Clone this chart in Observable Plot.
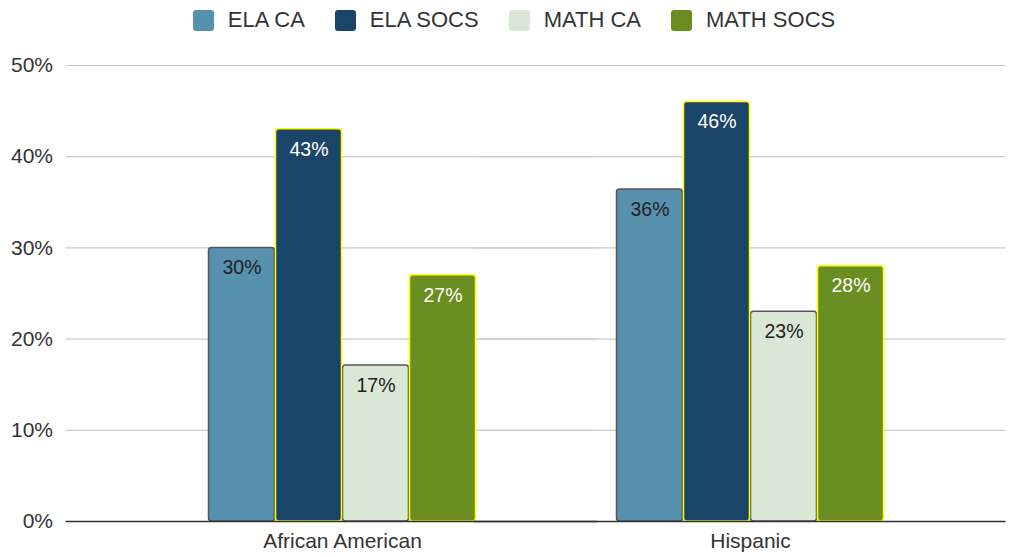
<!DOCTYPE html>
<html>
<head>
<meta charset="utf-8">
<script src="https://cdn.jsdelivr.net/npm/d3@7"></script>
<script src="https://cdn.jsdelivr.net/npm/@observablehq/plot@0.6"></script>
<style>
  body { margin: 0; background: #fff; font-family: "Liberation Sans", Arial, sans-serif; }
  #legend { height: 40px; display: flex; justify-content: center; align-items: center; padding-left: 12px; box-sizing: border-box; }
  .item { display: flex; align-items: center; margin: 0 15px; font-size: 22px; color: #333; }
  .sw { width: 21px; height: 21px; border-radius: 3px; margin-right: 14px; }
</style>
</head>
<body>
<div id="legend"></div>
<div id="chart"></div>
<script>
const groups = ["African American", "Hispanic"];
const series = ["ELA CA", "ELA SOCS", "MATH CA", "MATH SOCS"];
const elaCA = [30, 36.4];
const elaSOCS = [43, 46];
const mathCA = [17.1, 23];
const mathSOCS = [27, 28];
const colors = ["#5791ad", "#1b4568", "#d9e7d5", "#6b8e23"];
const yTicks = [0, 10, 20, 30, 40, 50];

const valuesBySeries = [elaCA, elaSOCS, mathCA, mathSOCS];
const data = [];
groups.forEach((g, i) => series.forEach((s, j) => data.push({group: g, series: s, value: valuesBySeries[j][i]})));
const isSocs = d => d.series.includes("SOCS");

// legend
const legend = document.getElementById("legend");
series.forEach((s, j) => {
  const it = document.createElement("div"); it.className = "item";
  const sw = document.createElement("div"); sw.className = "sw"; sw.style.background = colors[j];
  const t = document.createElement("span"); t.textContent = s;
  it.appendChild(sw); it.appendChild(t); legend.appendChild(it);
});

const chart = Plot.plot({
  width: 1016,
  height: 517,
  marginTop: 25,
  marginBottom: 36,
  marginLeft: 137.5,
  marginRight: 62.5,
  style: {fontSize: "21px", fontFamily: "'Liberation Sans', Arial, sans-serif", color: "#333", background: "#fff"},
  fx: {domain: groups, paddingInner: 0, paddingOuter: 0, label: null, tickSize: 0, tickPadding: 12, axis: "bottom"},
  x: {domain: series, paddingInner: 0.015, paddingOuter: 1.03, axis: null},
  y: {domain: [0, 50], ticks: yTicks, tickFormat: d => d + "%", tickSize: 0, tickPadding: 85.5, label: null},
  color: {domain: series, range: colors},
  marks: [
    Plot.ruleY(yTicks.filter(d => d > 0), {stroke: "#cccccc", strokeWidth: 1.2, insetLeft: -72.5, insetRight: -51.5}),
    Plot.barY(data, {filter: d => !isSocs(d), fx: "group", x: "series", y: "value", fill: "series", stroke: "#555", strokeWidth: 1.5, rx: 3}),
    Plot.barY(data, {filter: isSocs, fx: "group", x: "series", y: "value", fill: "series", stroke: "#ffff00", strokeWidth: 1.5, rx: 3}),
    Plot.ruleY([0], {stroke: "#333", strokeWidth: 1.5, insetLeft: -72.5, insetRight: -51.5}),
    Plot.text(data, {filter: d => !isSocs(d), fx: "group", x: "series", y: "value", text: d => Math.round(d.value) + "%", dy: 20, fill: "#222", fontSize: 19.5}),
    Plot.text(data, {filter: isSocs, fx: "group", x: "series", y: "value", text: d => Math.round(d.value) + "%", dy: 20, fill: "#fff", fontSize: 19.5})
  ]
});
document.getElementById("chart").appendChild(chart);
</script>
</body>
</html>
